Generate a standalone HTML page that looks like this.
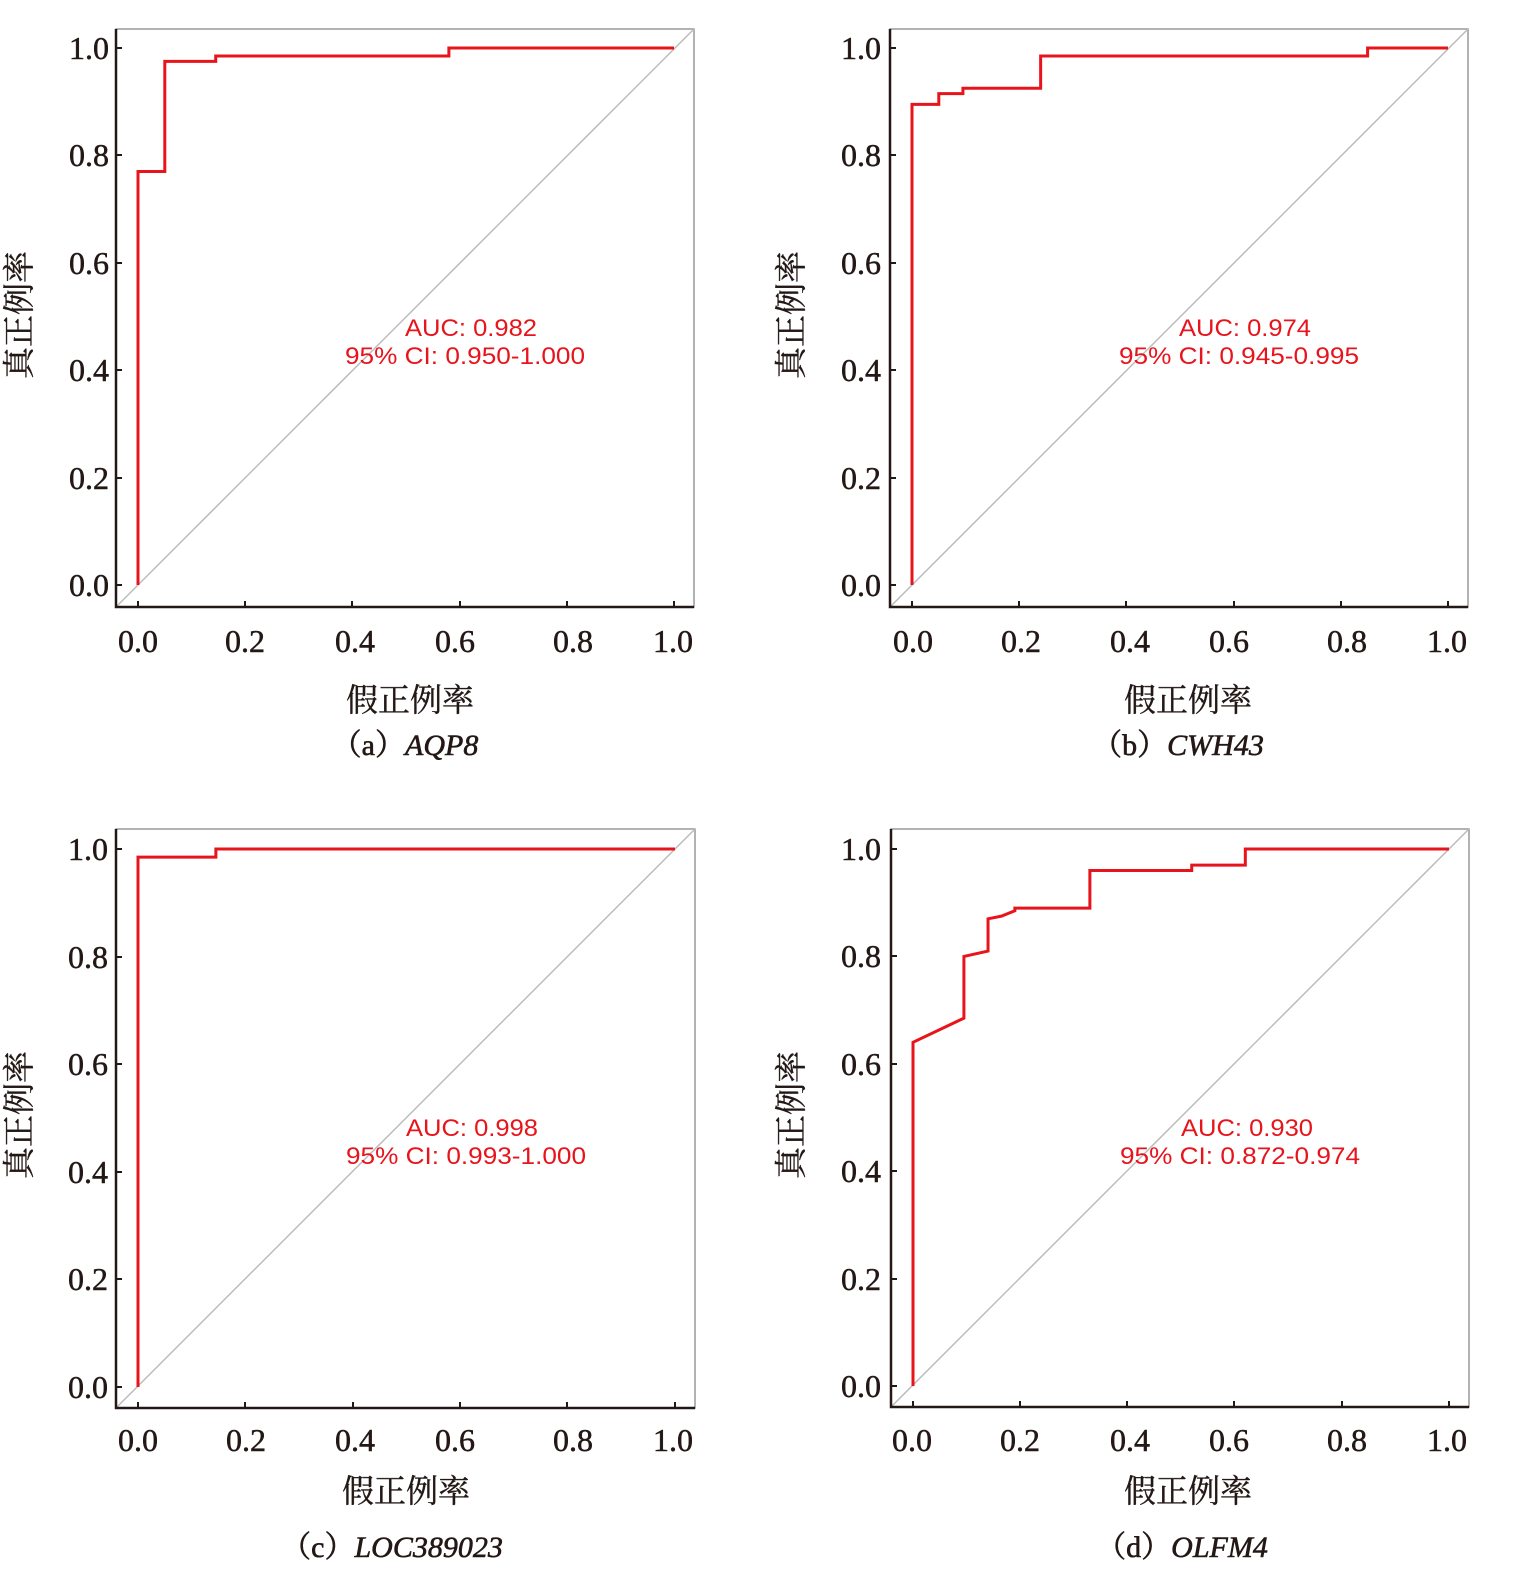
<!DOCTYPE html>
<html><head><meta charset="utf-8">
<style>
html,body{margin:0;padding:0;background:#fff;}
svg{display:block;}
.tk{font-family:"Liberation Serif","Noto Serif CJK SC",serif;font-size:32px;fill:#231815;stroke:#231815;stroke-width:0.5;}
.ti{font-family:"Liberation Serif","Noto Serif CJK SC",serif;font-size:32px;fill:#231815;stroke:#231815;stroke-width:0.4;}
.cap{font-family:"Liberation Serif","Noto Serif CJK SC",serif;font-size:30px;fill:#231815;stroke:#231815;stroke-width:0.6;}
.auc{font-family:"Liberation Sans",sans-serif;font-size:24px;fill:#e8141c;}
.c{fill:none;stroke:#e8141c;stroke-width:3;vector-effect:non-scaling-stroke;stroke-linejoin:miter;}
.fr{fill:none;stroke:#999;stroke-width:1.5;}
.ax{stroke:#231815;stroke-width:2.5;fill:none;}
.dg{stroke:#bbb;stroke-width:1.5;}
.t{stroke:#231815;stroke-width:2;}
</style></head>
<body>
<svg width="1535" height="1570" viewBox="0 0 1535 1570" xmlns="http://www.w3.org/2000/svg">
<!-- Panel a -->
<rect class="fr" x="116" y="29" width="578" height="578"/>
<line class="dg" x1="116" y1="607" x2="694" y2="29"/>
<path class="ax" d="M116 29 V607 H694"/>
<g class="t">
<line x1="138" y1="607" x2="138" y2="601"/><line x1="245" y1="607" x2="245" y2="601"/><line x1="352" y1="607" x2="352" y2="601"/><line x1="460" y1="607" x2="460" y2="601"/><line x1="567" y1="607" x2="567" y2="601"/><line x1="674" y1="607" x2="674" y2="601"/>
<line x1="116" y1="585" x2="122" y2="585"/><line x1="116" y1="478" x2="122" y2="478"/><line x1="116" y1="370" x2="122" y2="370"/><line x1="116" y1="263" x2="122" y2="263"/><line x1="116" y1="155" x2="122" y2="155"/><line x1="116" y1="48" x2="122" y2="48"/>
</g>
<g transform="translate(138,585) scale(536,-537)"><path class="c" d="M0 0 V0.77 H0.05 V0.975 H0.145 V0.985 H0.58 V1 H1"/></g>
<g class="tk" text-anchor="middle"><text x="138" y="652">0.0</text><text x="245" y="652">0.2</text><text x="355" y="652">0.4</text><text x="455" y="652">0.6</text><text x="573" y="652">0.8</text><text x="673" y="652">1.0</text></g>
<g class="tk" text-anchor="end"><text x="109" y="596">0.0</text><text x="109" y="489">0.2</text><text x="109" y="381">0.4</text><text x="109" y="274">0.6</text><text x="109" y="166">0.8</text><text x="109" y="59">1.0</text></g>
<g class="auc"><text x="405" y="336" textLength="132" lengthAdjust="spacingAndGlyphs">AUC: 0.982</text><text x="345" y="364" textLength="240" lengthAdjust="spacingAndGlyphs">95% CI: 0.950-1.000</text></g>
<text class="ti" x="410" y="711" text-anchor="middle">假正例率</text>
<text class="ti" transform="translate(30,315) rotate(-90)" text-anchor="middle">真正例率</text>
<text class="cap" x="405" y="755" text-anchor="middle">（a）<tspan font-style="italic">AQP8</tspan></text>

<!-- Panel b -->
<rect class="fr" x="890" y="29" width="578" height="578"/>
<line class="dg" x1="890" y1="607" x2="1468" y2="29"/>
<path class="ax" d="M890 29 V607 H1468"/>
<g class="t">
<line x1="912" y1="607" x2="912" y2="601"/><line x1="1019" y1="607" x2="1019" y2="601"/><line x1="1126" y1="607" x2="1126" y2="601"/><line x1="1234" y1="607" x2="1234" y2="601"/><line x1="1341" y1="607" x2="1341" y2="601"/><line x1="1448" y1="607" x2="1448" y2="601"/>
<line x1="890" y1="585" x2="896" y2="585"/><line x1="890" y1="478" x2="896" y2="478"/><line x1="890" y1="370" x2="896" y2="370"/><line x1="890" y1="263" x2="896" y2="263"/><line x1="890" y1="155" x2="896" y2="155"/><line x1="890" y1="48" x2="896" y2="48"/>
</g>
<g transform="translate(912,585) scale(536,-537)"><path class="c" d="M0 0 V0.895 H0.05 V0.915 H0.095 V0.925 H0.24 V0.985 H0.85 V1 H1"/></g>
<g class="tk" text-anchor="middle"><text x="913" y="652">0.0</text><text x="1021" y="652">0.2</text><text x="1130" y="652">0.4</text><text x="1229" y="652">0.6</text><text x="1347" y="652">0.8</text><text x="1447" y="652">1.0</text></g>
<g class="tk" text-anchor="end"><text x="881" y="596">0.0</text><text x="881" y="489">0.2</text><text x="881" y="381">0.4</text><text x="881" y="274">0.6</text><text x="881" y="166">0.8</text><text x="881" y="59">1.0</text></g>
<g class="auc"><text x="1179" y="336" textLength="132" lengthAdjust="spacingAndGlyphs">AUC: 0.974</text><text x="1119" y="364" textLength="240" lengthAdjust="spacingAndGlyphs">95% CI: 0.945-0.995</text></g>
<text class="ti" x="1188" y="711" text-anchor="middle">假正例率</text>
<text class="ti" transform="translate(802,315) rotate(-90)" text-anchor="middle">真正例率</text>
<text class="cap" x="1178" y="755" text-anchor="middle">（b）<tspan font-style="italic">CWH43</tspan></text>

<!-- Panel c -->
<rect class="fr" x="116" y="829" width="579" height="579"/>
<line class="dg" x1="116" y1="1408" x2="695" y2="829"/>
<path class="ax" d="M116 829 V1408 H695"/>
<g class="t">
<line x1="138" y1="1408" x2="138" y2="1402"/><line x1="245" y1="1408" x2="245" y2="1402"/><line x1="353" y1="1408" x2="353" y2="1402"/><line x1="460" y1="1408" x2="460" y2="1402"/><line x1="567" y1="1408" x2="567" y2="1402"/><line x1="675" y1="1408" x2="675" y2="1402"/>
<line x1="116" y1="1387" x2="122" y2="1387"/><line x1="116" y1="1279" x2="122" y2="1279"/><line x1="116" y1="1172" x2="122" y2="1172"/><line x1="116" y1="1064" x2="122" y2="1064"/><line x1="116" y1="957" x2="122" y2="957"/><line x1="116" y1="849" x2="122" y2="849"/>
</g>
<g transform="translate(138,1387) scale(537,-538)"><path class="c" d="M0 0 V0.985 H0.145 V1 H1"/></g>
<g class="tk" text-anchor="middle"><text x="138" y="1451">0.0</text><text x="246" y="1451">0.2</text><text x="355" y="1451">0.4</text><text x="455" y="1451">0.6</text><text x="573" y="1451">0.8</text><text x="673" y="1451">1.0</text></g>
<g class="tk" text-anchor="end"><text x="108" y="1398">0.0</text><text x="108" y="1290">0.2</text><text x="108" y="1183">0.4</text><text x="108" y="1075">0.6</text><text x="108" y="968">0.8</text><text x="108" y="860">1.0</text></g>
<g class="auc"><text x="406" y="1136" textLength="132" lengthAdjust="spacingAndGlyphs">AUC: 0.998</text><text x="346" y="1164" textLength="240" lengthAdjust="spacingAndGlyphs">95% CI: 0.993-1.000</text></g>
<text class="ti" x="406" y="1502" text-anchor="middle">假正例率</text>
<text class="ti" transform="translate(30,1115) rotate(-90)" text-anchor="middle">真正例率</text>
<text class="cap" x="392" y="1557" text-anchor="middle">（c）<tspan font-style="italic">LOC389023</tspan></text>

<!-- Panel d -->
<rect class="fr" x="891" y="829" width="578" height="578"/>
<line class="dg" x1="891" y1="1407" x2="1469" y2="829"/>
<path class="ax" d="M891 829 V1407 H1469"/>
<g class="t">
<line x1="913" y1="1407" x2="913" y2="1401"/><line x1="1020" y1="1407" x2="1020" y2="1401"/><line x1="1127" y1="1407" x2="1127" y2="1401"/><line x1="1234" y1="1407" x2="1234" y2="1401"/><line x1="1342" y1="1407" x2="1342" y2="1401"/><line x1="1449" y1="1407" x2="1449" y2="1401"/>
<line x1="891" y1="1386" x2="897" y2="1386"/><line x1="891" y1="1279" x2="897" y2="1279"/><line x1="891" y1="1171" x2="897" y2="1171"/><line x1="891" y1="1064" x2="897" y2="1064"/><line x1="891" y1="956" x2="897" y2="956"/><line x1="891" y1="849" x2="897" y2="849"/>
</g>
<g transform="translate(913,1386) scale(536,-537)"><path class="c" d="M0 0 V0.64 L0.095 0.685 V0.80 L0.14 0.81 V0.87 L0.165 0.875 L0.19 0.885 V0.89 H0.33 V0.96 H0.52 V0.97 H0.62 V1 H1"/></g>
<g class="tk" text-anchor="middle"><text x="912" y="1451">0.0</text><text x="1020" y="1451">0.2</text><text x="1130" y="1451">0.4</text><text x="1229" y="1451">0.6</text><text x="1347" y="1451">0.8</text><text x="1447" y="1451">1.0</text></g>
<g class="tk" text-anchor="end"><text x="881" y="1397">0.0</text><text x="881" y="1290">0.2</text><text x="881" y="1182">0.4</text><text x="881" y="1075">0.6</text><text x="881" y="967">0.8</text><text x="881" y="860">1.0</text></g>
<g class="auc"><text x="1181" y="1136" textLength="132" lengthAdjust="spacingAndGlyphs">AUC: 0.930</text><text x="1120" y="1164" textLength="240" lengthAdjust="spacingAndGlyphs">95% CI: 0.872-0.974</text></g>
<text class="ti" x="1188" y="1502" text-anchor="middle">假正例率</text>
<text class="ti" transform="translate(802,1115) rotate(-90)" text-anchor="middle">真正例率</text>
<text class="cap" x="1182" y="1557" text-anchor="middle">（d）<tspan font-style="italic">OLFM4</tspan></text>
</svg>
</body></html>
